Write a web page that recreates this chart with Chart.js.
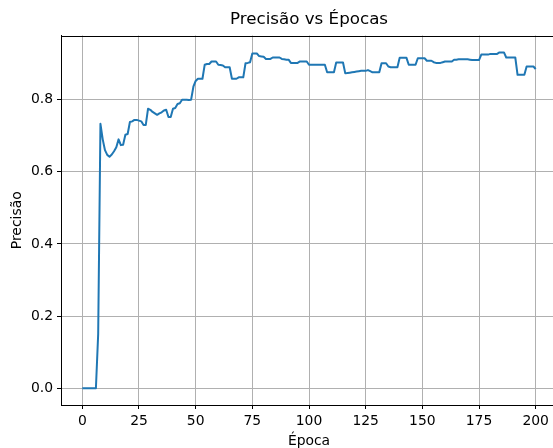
<!DOCTYPE html>
<html>
<head>
<meta charset="utf-8">
<script src="https://cdn.jsdelivr.net/npm/chart.js@4.4.0/dist/chart.umd.min.js"></script>
<style>
  html, body { margin: 0; padding: 0; overflow: hidden; background: #fff; }
  #wrap { width: 560px; height: 448px; }
</style>
</head>
<body>
<div id="wrap"><canvas id="canvasPrecisao"></canvas></div>
<script>
// precisão de validação por época (época 0 a 200)
var precisao = [
  0, 0, 0, 0, 0, 0, 0, 0.15, 0.733, 0.69,
  0.66, 0.647, 0.642, 0.648, 0.657, 0.668, 0.69, 0.674, 0.675, 0.703,
  0.705, 0.738, 0.74, 0.744, 0.744, 0.742, 0.74, 0.73, 0.73, 0.775,
  0.772, 0.766, 0.762, 0.758, 0.762, 0.765, 0.77, 0.772, 0.752, 0.752,
  0.775, 0.777, 0.788, 0.79, 0.8, 0.8, 0.8, 0.799, 0.8, 0.836,
  0.852, 0.858, 0.858, 0.858, 0.897, 0.899, 0.899, 0.906, 0.906, 0.906,
  0.897, 0.896, 0.895, 0.89, 0.89, 0.89, 0.858, 0.858, 0.858, 0.862,
  0.862, 0.862, 0.901, 0.902, 0.904, 0.928, 0.928, 0.928, 0.921, 0.92,
  0.919, 0.913, 0.913, 0.913, 0.917, 0.917, 0.917, 0.917, 0.913, 0.912,
  0.911, 0.911, 0.902, 0.902, 0.902, 0.902, 0.906, 0.906, 0.906, 0.906,
  0.897, 0.897, 0.897, 0.897, 0.897, 0.897, 0.897, 0.897, 0.876, 0.876,
  0.876, 0.876, 0.903, 0.903, 0.903, 0.903, 0.873, 0.874, 0.875, 0.876,
  0.877, 0.878, 0.879, 0.88, 0.88, 0.88, 0.882, 0.879, 0.876, 0.876,
  0.876, 0.876, 0.901, 0.901, 0.901, 0.892, 0.89, 0.89, 0.89, 0.89,
  0.916, 0.916, 0.916, 0.916, 0.897, 0.897, 0.897, 0.897, 0.915, 0.915,
  0.915, 0.915, 0.908, 0.908, 0.908, 0.904, 0.902, 0.902, 0.902, 0.904,
  0.906, 0.906, 0.906, 0.906, 0.911, 0.911, 0.912, 0.912, 0.912, 0.912,
  0.912, 0.911, 0.91, 0.91, 0.91, 0.91, 0.925, 0.925, 0.925, 0.925,
  0.927, 0.927, 0.927, 0.927, 0.931, 0.931, 0.931, 0.917, 0.917, 0.917,
  0.917, 0.917, 0.869, 0.869, 0.869, 0.869, 0.892, 0.892, 0.892, 0.892,
  0.885
];
var epocas = precisao.map(function (v, i) { return i; });
var xTicks = [0, 25, 50, 75, 100, 125, 150, 175, 200];
var yTicks = [0.0, 0.2, 0.4, 0.6, 0.8];
var titulo = "Precisão vs Épocas";

Chart.defaults.font.family = '"DejaVu Sans", sans-serif';
Chart.defaults.font.size = 13.9;
Chart.defaults.color = "#000";

// moldura completa do gráfico e título centrado sobre a área do gráfico
var moldura = {
    id: "moldura",
    afterDraw: function (chart) {
        var a = chart.chartArea;
        var ctx = chart.ctx;
        ctx.save();
        ctx.strokeStyle = "#000";
        ctx.lineWidth = 1;
        var l = Math.round(a.left) + 0.5, t = Math.round(a.top) + 0.5;
        var r = Math.round(a.right) + 0.5, b = Math.round(a.bottom) + 0.5;
        ctx.strokeRect(l, t, r - l, b - t);
        ctx.fillStyle = "#000";
        ctx.font = '16.7px "DejaVu Sans", sans-serif';
        ctx.textAlign = "center";
        ctx.textBaseline = "middle";
        ctx.fillText(titulo, (a.left + a.right) / 2, 20);
        ctx.restore();
    }
};

var data = [];
for (var i = 0; i < precisao.length; i++) {
    data.push({ x: epocas[i], y: precisao[i] });
}

var ctx = document.getElementById("canvasPrecisao").getContext("2d");
new Chart(ctx, {
    type: "line",
    data: {
        datasets: [
            {
                label: "Precisão",
                data: data,
                fill: false,
                borderColor: "#1f77b4",
                backgroundColor: "#1f77b4",
                borderWidth: 2,
                borderJoinStyle: "round",
                pointRadius: 0,
                lineTension: 0,
            },
        ],
    },
    options: {
        responsive: true,
        maintainAspectRatio: false,
        animation: false,
        layout: { padding: { top: 35.5, right: 3, bottom: 0, left: 0 } },
        plugins: {
            legend: { display: false },
            tooltip: { enabled: false },
        },
        scales: {
            x: {
                type: "linear",
                min: -9.4,
                max: 209.4,
                afterBuildTicks: function (s) {
                    s.ticks = xTicks.map(function (v) { return { value: v }; });
                },
                afterFit: function (s) { s.height = 43; },
                grid: { color: "#b0b0b0", lineWidth: 1, tickColor: "#000", tickLength: 4, tickWidth: 1 },
                border: { display: true, color: "#000", width: 1 },
                ticks: {
                    padding: 4, maxRotation: 0, autoSkip: false,
                    callback: function (v) { return String(v); }
                },
                title: { display: true, text: "Época", padding: { top: 0, bottom: -1.5 } },
            },
            y: {
                min: -0.0466,
                max: 0.978,
                afterBuildTicks: function (s) {
                    s.ticks = yTicks.map(function (v) { return { value: v }; });
                },
                afterFit: function (s) { s.width = 61; },
                grid: { color: "#b0b0b0", lineWidth: 1, tickColor: "#000", tickLength: 4, tickWidth: 1 },
                border: { display: true, color: "#000", width: 1 },
                ticks: {
                    padding: 4,
                    callback: function (v) { return v.toFixed(1); }
                },
                title: { display: true, text: "Precisão", padding: { top: 9, bottom: 0 } },
            },
        },
    },
    plugins: [moldura],
});
</script>
</body>
</html>
